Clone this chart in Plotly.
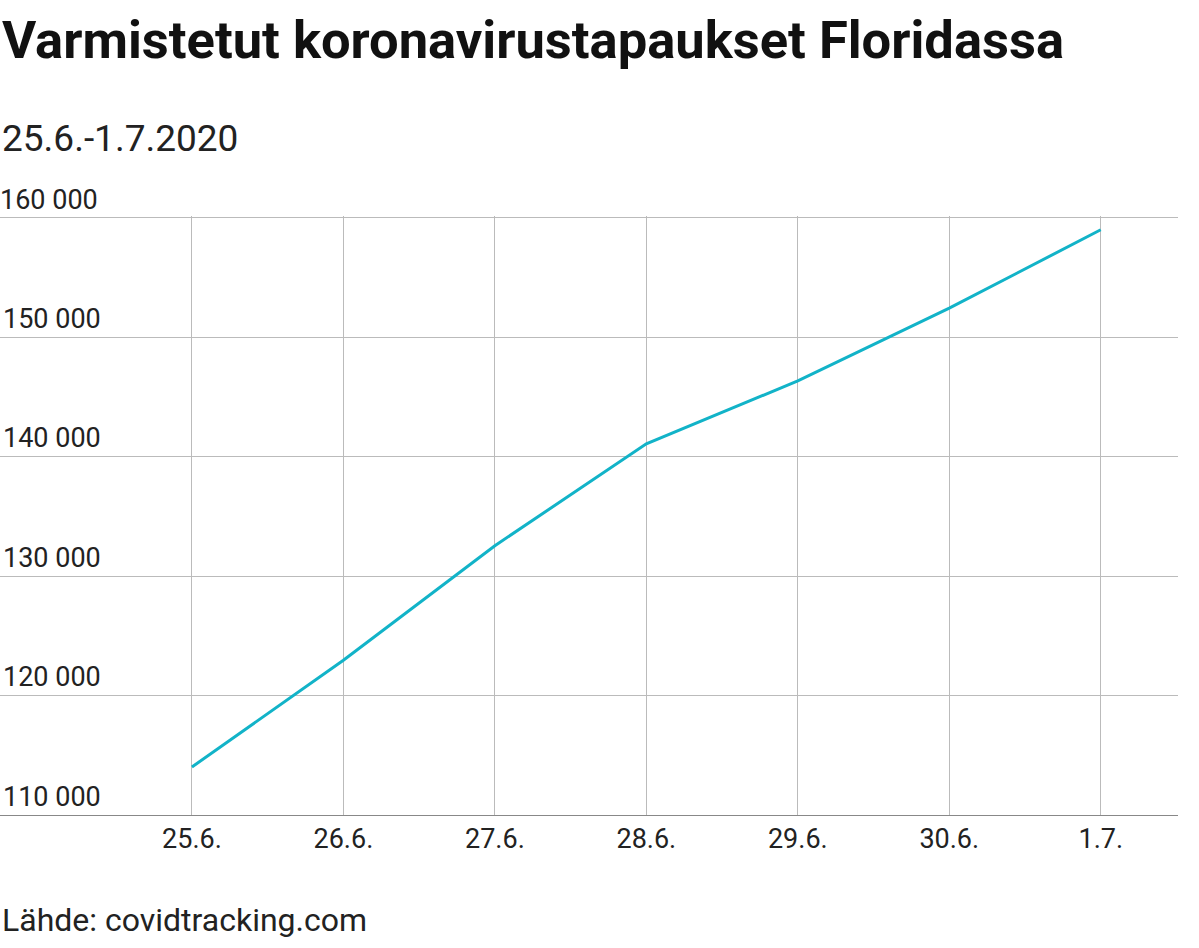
import plotly.graph_objects as go

dates = ["25.6.", "26.6.", "27.6.", "28.6.", "29.6.", "30.6.", "1.7."]
cases = [114018, 122960, 132545, 141075, 146341, 152434, 158997]
ytick_vals = [110000, 120000, 130000, 140000, 150000, 160000]
ytick_text = ["110 000", "120 000", "130 000", "140 000", "150 000", "160 000"]

fig = go.Figure(go.Scatter(x=list(range(len(dates))), y=cases, mode="lines",
                           line=dict(color="#12b3c8", width=3), hoverinfo="skip"))
fig.update_layout(
    width=1199, height=948, plot_bgcolor="white", paper_bgcolor="white",
    margin=dict(l=0, r=21, t=216, b=133), showlegend=False,
    font=dict(family="Roboto", color="#222"),
    xaxis=dict(range=[-1.267, 6.51], tickvals=list(range(len(dates))), ticktext=dates,
               showgrid=True, gridcolor="#bbb", gridwidth=1, zeroline=False,
               tickfont=dict(size=27, color="#222"), ticks="", showline=True, linecolor="#888"),
    yaxis=dict(range=[110000, 160150], tickvals=ytick_vals, ticktext=ytick_text,
               ticklabelposition="inside top", showgrid=True, gridcolor="#bbb",
               zeroline=False, tickfont=dict(size=27, color="#222"), ticks=""),
    annotations=[
        dict(text="<b>Varmistetut koronavirustapaukset Floridassa</b>", x=0, y=1.0, xref="paper", yref="paper",
             xanchor="left", yanchor="top", showarrow=False, font=dict(size=52.5, color="#111"), yshift=216-7),
        dict(text="25.6.-1.7.2020", x=0, xref="paper", yref="paper", y=1.0, yshift=216-115,
             xanchor="left", yanchor="top", showarrow=False, font=dict(size=37, color="#222")),
        dict(text="Lähde: covidtracking.com", x=0, xref="paper", yref="paper", y=0, yshift=-84,
             xanchor="left", yanchor="top", showarrow=False, font=dict(size=32, color="#222")),
        dict(text=ytick_text[-1], x=0, xref="paper", y=ytick_vals[-1], yref="y",
             xanchor="left", yanchor="bottom", showarrow=False, xshift=-2,
             font=dict(size=27, color="#222")),
    ],
)
fig.write_html("out.html", config={"displayModeBar": False},
               post_script="document.body.style.margin='0';")
